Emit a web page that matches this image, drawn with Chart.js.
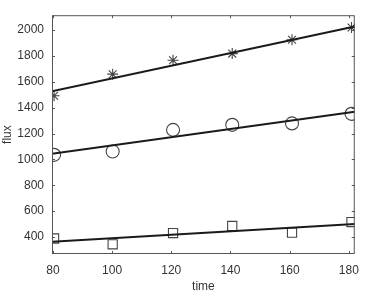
<!DOCTYPE html>
<html>
<head>
<meta charset="utf-8">
<script src="https://cdn.jsdelivr.net/npm/chart.js@4/dist/chart.umd.min.js"></script>
<style>
  html, body { margin: 0; padding: 0; background: #fff; }
  #wrap { width: 368px; height: 291px; }
</style>
</head>
<body>
<div id="wrap"><canvas id="fluxChart" width="368" height="291"></canvas></div>
<script>
// measured times and flux values
const times = [80.4, 100.2, 120.6, 140.6, 160.8, 180.9];
const fluxStar = [1492, 1659, 1766, 1818, 1925, 2020];
const fluxCircle = [1035, 1061, 1228, 1267, 1278, 1352];
const fluxSquare = [388, 343, 430, 485, 433, 515];

// fitted lines, drawn across the whole x range
const fitTimes = [79.7, 182];
const fitStar = [1527, 2028];
const fitCircle = [1043, 1368];
const fitSquare = [363, 500];

const xTicks = [80, 100, 120, 140, 160, 180];
const yTicks = [400, 600, 800, 1000, 1200, 1400, 1600, 1800, 2000];

const toPoints = (xs, ys) => xs.map((x, i) => ({ x: x, y: ys[i] }));

function markerSet(ys, style, radius) {
  return {
    type: "scatter",
    data: toPoints(times, ys),
    showLine: false,
    pointStyle: style,
    pointRadius: radius,
    pointBorderColor: "#444",
    pointBackgroundColor: "rgba(0,0,0,0)",
    pointBorderWidth: 1.1,
  };
}

function fitSet(ys) {
  return {
    type: "line",
    data: toPoints(fitTimes, ys),
    borderColor: "#1a1a1a",
    borderWidth: 2,
    pointRadius: 0,
    fill: false,
  };
}

// box round the plot with short inward ticks on every side
const boxPlugin = {
  id: "box",
  afterDraw(chart) {
    const { ctx, chartArea: a, scales } = chart;
    ctx.save();
    ctx.strokeStyle = "#555";
    ctx.lineWidth = 1;
    ctx.strokeRect(a.left + 0.5, a.top + 0.5, a.right - a.left - 1, a.bottom - a.top - 1);
    ctx.beginPath();
    xTicks.forEach((v) => {
      const px = Math.round(scales.x.getPixelForValue(v)) + 0.5;
      ctx.moveTo(px, a.bottom);
      ctx.lineTo(px, a.bottom - 3);
      ctx.moveTo(px, a.top);
      ctx.lineTo(px, a.top + 3);
    });
    yTicks.forEach((v) => {
      const py = Math.round(scales.y.getPixelForValue(v)) + 0.5;
      ctx.moveTo(a.left, py);
      ctx.lineTo(a.left + 3, py);
      ctx.moveTo(a.right, py);
      ctx.lineTo(a.right - 3, py);
    });
    ctx.stroke();
    ctx.restore();
  },
};

const tickFont = { family: "'Liberation Sans', Arial, sans-serif", size: 12 };
const plain = (v) => String(v);

new Chart(document.getElementById("fluxChart"), {
  data: {
    datasets: [
      fitSet(fitStar),
      fitSet(fitCircle),
      fitSet(fitSquare),
      markerSet(fluxStar, "star", 5.5),
      markerSet(fluxCircle, "circle", 6.5),
      markerSet(fluxSquare, "rect", 6.5),
    ],
  },
  options: {
    responsive: false,
    animation: false,
    layout: { padding: { top: 7, right: 2, left: 0, bottom: 0 } },
    plugins: { legend: { display: false }, tooltip: { enabled: false } },
    scales: {
      x: {
        type: "linear",
        min: 79.7,
        max: 182,
        afterBuildTicks: (s) => { s.ticks = xTicks.map((v) => ({ value: v })); },
        afterFit: (s) => { s.height = 37; },
        grid: { display: false, drawTicks: false },
        border: { display: false },
        ticks: { color: "#333", font: tickFont, padding: 9, callback: plain },
        title: {
          display: true,
          text: "time",
          color: "#333",
          font: tickFont,
          padding: { top: 0, bottom: -3 },
        },
      },
      y: {
        type: "linear",
        min: 268,
        max: 2115,
        afterBuildTicks: (s) => { s.ticks = yTicks.map((v) => ({ value: v })); },
        afterFit: (s) => { s.width = 52; },
        grid: { display: false, drawTicks: false },
        border: { display: false },
        ticks: { color: "#333", font: tickFont, padding: 8, callback: plain },
        title: {
          display: true,
          text: "flux",
          color: "#333",
          font: tickFont,
          padding: { top: 0, bottom: 4 },
        },
      },
    },
  },
  plugins: [boxPlugin],
});
</script>
</body>
</html>
